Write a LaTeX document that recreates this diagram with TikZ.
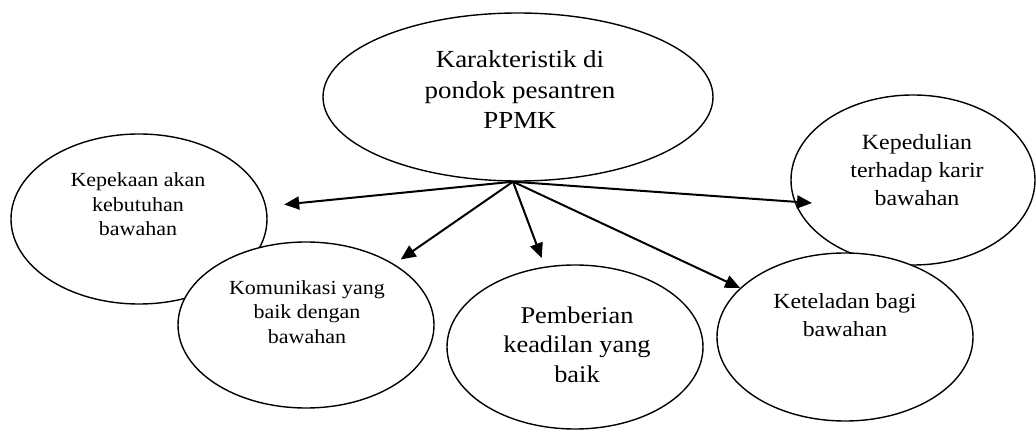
\documentclass[tikz,border=0pt]{standalone}
\usepackage{fontspec}
\setmainfont{Liberation Serif}[FakeStretch=1.1]
\usetikzlibrary{arrows.meta,shapes.geometric}
\begin{document}
\begin{tikzpicture}[x=1pt,y=-1pt,
  oval/.style={draw, fill=white, ellipse, line width=1.4pt, inner sep=0pt},
  lbl/.style={anchor=base, align=center, inner sep=0pt},
  arr/.style={line width=2pt, -{Triangle[length=15pt,width=13pt]}}]
\useasboundingbox (0,0) rectangle (1036,430);
% ellipses
\node[oval, minimum width=256pt, minimum height=170pt] (kep) at (139,219) {};
\node[oval, minimum width=244pt, minimum height=170pt] (kpd) at (913,180) {};
\node[oval, minimum width=256pt, minimum height=166pt] (kom) at (306,325) {};
\node[oval, minimum width=256pt, minimum height=164pt] (pem) at (575,347) {};
\node[oval, minimum width=256pt, minimum height=168pt] (ket) at (845,337) {};
\node[oval, minimum width=390pt, minimum height=168pt] (top) at (518,97) {};
% texts (anchor = baseline of the last line)
\node[lbl, font=\fontsize{24.5}{30.5}\selectfont] (toptxt) at (520,129) {Karakteristik di\\pondok pesantren\\PPMK};
\node[lbl, font=\fontsize{20}{24.5}\selectfont] (keptxt) at (138,236) {Kepekaan akan\\kebutuhan\\bawahan};
\node[lbl, font=\fontsize{20}{24.3}\selectfont] (komtxt) at (307,343) {Komunikasi yang\\baik dengan\\bawahan};
\node[lbl, font=\fontsize{24}{29.5}\selectfont] (pemtxt) at (577,382) {Pemberian\\keadilan yang\\baik};
\node[lbl, font=\fontsize{21.6}{28.5}\selectfont] (kettxt) at (845,337) {Keteladan bagi\\bawahan};
\node[lbl, font=\fontsize{21.7}{28}\selectfont] (kpdtxt) at (917,206) {Kepedulian\\terhadap karir\\bawahan};
% arrows
\coordinate (hub) at ([xshift=-5pt]top.south);
\coordinate (kpdtip) at (812,203);
\draw[arr, shorten >=18pt] (hub) -- (kep);
\draw[arr, shorten >=8pt] (hub) -- (kom);
\draw[arr, shorten >=9pt] (hub) -- (pem);
\draw[arr] (hub) -- (ket);
\draw[arr] (hub) -- (kpdtip);
\end{tikzpicture}
\end{document}
